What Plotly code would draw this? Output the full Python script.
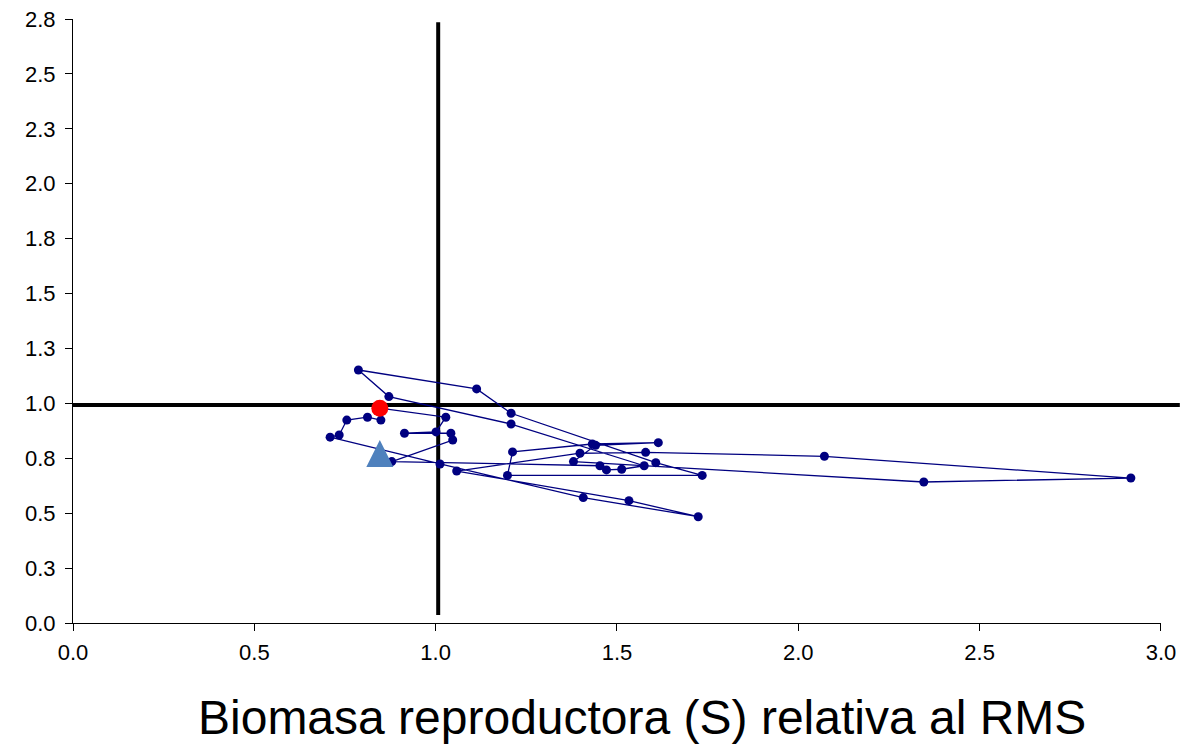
import plotly.graph_objects as go

# Trajectory: S/S_RMS (x) vs F/F_RMS (y), in sequence
s_rel = [0.849, 0.812, 0.755, 0.734, 0.709, 1.012, 1.407, 1.724, 1.533,
         1.058, 1.398, 1.579, 2.072, 2.917, 2.346, 1.380, 1.441, 1.614,
         1.432, 1.212, 1.198, 1.735, 1.607, 1.208, 1.113, 0.787, 0.871,
         1.208, 1.575, 1.513, 1.471, 1.453, 0.879, 1.047, 1.042, 0.914,
         1.001, 1.028, 0.846]
f_rel = [0.924, 0.937, 0.924, 0.856, 0.846, 0.724, 0.571, 0.484, 0.557,
         0.692, 0.773, 0.777, 0.759, 0.660, 0.642, 0.735, 0.809, 0.821,
         0.815, 0.779, 0.672, 0.672, 0.730, 0.955, 1.066, 1.152, 1.031,
         0.906, 0.716, 0.700, 0.697, 0.716, 0.735, 0.833, 0.864, 0.864,
         0.870, 0.937, 0.978]

last_s, last_f = [0.846], [0.978]
proj_s, proj_f = [0.846], [0.772]

ref_s = 1.007
ref_f = 0.993

x_range = [0.0, 3.0001]
y_range = [0.0, 2.7501]
x_ticks = [0.0, 0.5, 1.0, 1.5, 2.0, 2.5, 3.0]
x_labels = ["0.0", "0.5", "1.0", "1.5", "2.0", "2.5", "3.0"]
y_ticks = [0.0, 0.25, 0.5, 0.75, 1.0, 1.25, 1.5, 1.75, 2.0, 2.25, 2.5, 2.75]
y_labels = ["0.0", "0.3", "0.5", "0.8", "1.0", "1.3", "1.5", "1.8", "2.0", "2.3", "2.5", "2.8"]

x_title = "Biomasa reproductora (S) relativa al RMS"

FONT = "Liberation Sans, Arial, sans-serif"

fig = go.Figure()
fig.add_trace(go.Scatter(x=s_rel, y=f_rel, mode="lines+markers",
                         line=dict(color="#000080", width=1.3),
                         marker=dict(color="#000080", size=9),
                         showlegend=False))
fig.add_trace(go.Scatter(x=last_s, y=last_f, mode="markers",
                         marker=dict(color="#FF0000", size=17),
                         showlegend=False))

def px(v):
    return (v - x_range[0]) / (x_range[1] - x_range[0])

def py(v):
    return (v - y_range[0]) / (y_range[1] - y_range[0])

# reference lines (extend slightly past the axes like the original)
fig.add_shape(type="line", xref="paper", yref="paper",
              x0=px(0.0), x1=px(3.052), y0=py(ref_f), y1=py(ref_f),
              line=dict(color="black", width=4), layer="below")
fig.add_shape(type="line", xref="paper", yref="paper",
              x0=px(ref_s), x1=px(ref_s), y0=py(0.036), y1=py(2.735),
              line=dict(color="black", width=4), layer="below")

# triangle marker (27 x 27 px) anchored at the projection point
fig.add_shape(type="path", xref="x", yref="y",
              xsizemode="pixel", ysizemode="pixel",
              xanchor=proj_s[0], yanchor=proj_f[0],
              path="M -13.5,-13.5 L 13.5,-13.5 L 0,13.5 Z",
              fillcolor="#4F81BD", line=dict(width=0), layer="above")

fig.add_annotation(text=x_title, xref="paper", yref="paper",
                   x=0.523, y=-0.157, xanchor="center", yanchor="middle",
                   showarrow=False,
                   font=dict(family=FONT, size=48, color="black"))

axis_common = dict(showgrid=False, zeroline=False, showline=True, linecolor="black",
                   linewidth=1, ticks="outside", ticklen=7, tickcolor="black",
                   automargin=False, ticklabeloverflow="allow",
                   tickfont=dict(family=FONT, size=22, color="black"))
fig.update_xaxes(range=x_range, tickvals=x_ticks, ticktext=x_labels,
                 ticklabelstandoff=3, **axis_common)
fig.update_yaxes(range=y_range, tickvals=y_ticks, ticktext=y_labels,
                 ticklabelstandoff=5, **axis_common)

# page body has an 8px margin: shrink the figure so the plot lands where the original is
fig.update_layout(width=1185, height=737, plot_bgcolor="white", paper_bgcolor="white",
                  margin=dict(l=65, r=32, t=11, b=122))

fig.write_html("out.html")
